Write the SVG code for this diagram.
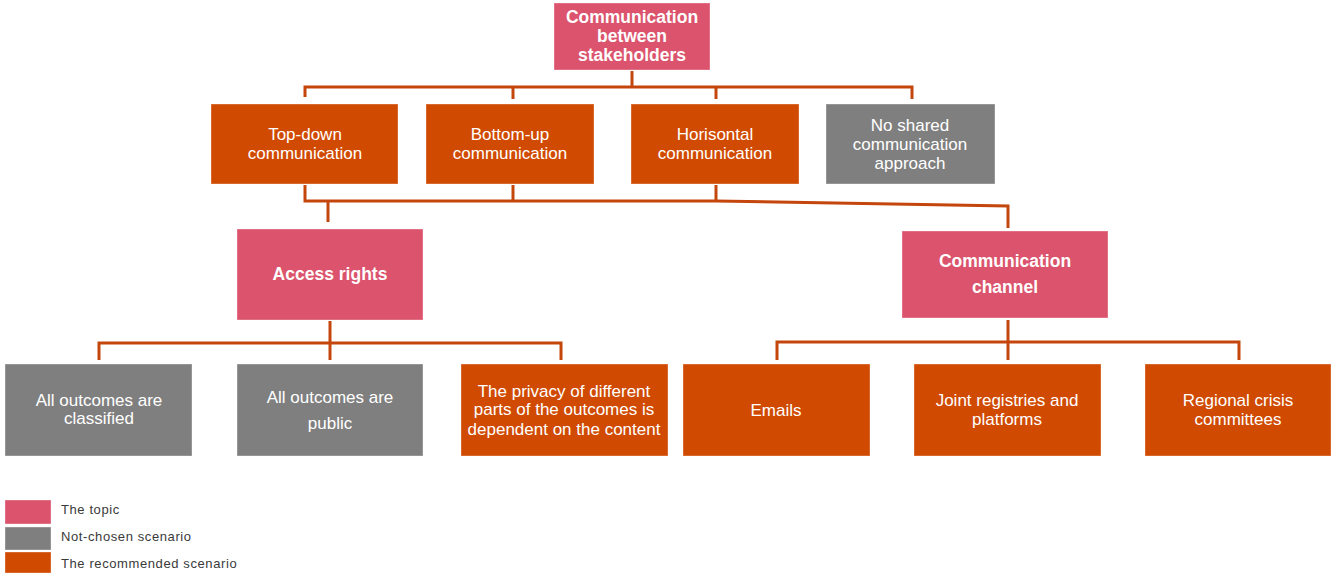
<svg xmlns="http://www.w3.org/2000/svg" width="1331" height="573" viewBox="0 0 1331 573">
  <style>
    .topic { fill: #db536c; }
    .rec { fill: #d04a02; }
    .no { fill: #7f7f7f; }
    .box { stroke: #ffffff; stroke-opacity: 0.35; stroke-width: 1; }
    text { font-family: "Liberation Sans", Arial, sans-serif; fill: #ffffff; text-anchor: middle; }
    .t { font-size: 17px; }
    .b { font-size: 17.5px; font-weight: bold; }
    .leg { font-size: 13px; fill: #3a3a3a; text-anchor: start; letter-spacing: 0.6px; }
    .conn { fill: none; stroke: #c4460c; stroke-width: 3; stroke-linejoin: miter; }
  </style>

  <g id="connectors" class="conn">
    <!-- root to first row -->
    <path d="M632 71 V88"/>
    <path d="M305 97 V87 H912 V99"/>
    <path d="M513 87 V99"/>
    <path d="M716 87 V99"/>
    <!-- first row to second-level topics -->
    <path d="M305 185 V201 H716 L1008 206 V228"/>
    <path d="M513 185 V201"/>
    <path d="M716 185 V201"/>
    <path d="M328 201 V222"/>
    <!-- access rights branch -->
    <path d="M330 321 V343"/>
    <path d="M99 360 V343 H561 V360"/>
    <path d="M330 343 V360"/>
    <!-- communication channel branch -->
    <path d="M1008 320 V342"/>
    <path d="M777 360 V342 H1239 V360"/>
    <path d="M1008 342 V360"/>
  </g>

  <g id="root">
    <rect class="topic box" x="554" y="3" width="156" height="67"/>
    <text class="b" x="632" y="23">Communication</text>
    <text class="b" x="632" y="42">between</text>
    <text class="b" x="632" y="61">stakeholders</text>
  </g>

  <g id="top-down">
    <rect class="rec box" x="211" y="104" width="187" height="80"/>
    <text class="t" x="305" y="140">Top-down</text>
    <text class="t" x="305" y="159">communication</text>
  </g>
  <g id="bottom-up">
    <rect class="rec box" x="426" y="104" width="168" height="80"/>
    <text class="t" x="510" y="140">Bottom-up</text>
    <text class="t" x="510" y="159">communication</text>
  </g>
  <g id="horisontal">
    <rect class="rec box" x="631" y="104" width="168" height="80"/>
    <text class="t" x="715" y="140">Horisontal</text>
    <text class="t" x="715" y="159">communication</text>
  </g>
  <g id="no-shared">
    <rect class="no box" x="826" y="104" width="169" height="80"/>
    <text class="t" x="910" y="131">No shared</text>
    <text class="t" x="910" y="150">communication</text>
    <text class="t" x="910" y="169">approach</text>
  </g>

  <g id="access-rights">
    <rect class="topic box" x="237" y="229" width="186" height="91"/>
    <text class="b" x="330" y="280">Access rights</text>
  </g>
  <g id="communication-channel">
    <rect class="topic box" x="902" y="231" width="206" height="87"/>
    <text class="b" x="1005" y="267">Communication</text>
    <text class="b" x="1005" y="293">channel</text>
  </g>

  <g id="classified">
    <rect class="no box" x="5" y="364" width="187" height="92"/>
    <text class="t" x="99" y="406">All  outcomes are</text>
    <text class="t" x="99" y="424">classified</text>
  </g>
  <g id="public">
    <rect class="no box" x="237" y="364" width="186" height="92"/>
    <text class="t" x="330" y="403">All  outcomes are</text>
    <text class="t" x="330" y="429">public</text>
  </g>
  <g id="privacy">
    <rect class="rec box" x="461" y="364" width="207" height="92"/>
    <text class="t" x="564" y="397">The privacy of different</text>
    <text class="t" x="564" y="415">parts of the outcomes is</text>
    <text class="t" x="564" y="435">dependent on the content</text>
  </g>

  <g id="emails">
    <rect class="rec box" x="683" y="364" width="187" height="92"/>
    <text class="t" x="776" y="416">Emails</text>
  </g>
  <g id="joint-registries">
    <rect class="rec box" x="914" y="364" width="187" height="92"/>
    <text class="t" x="1007" y="406">Joint registries and</text>
    <text class="t" x="1007" y="425">platforms</text>
  </g>
  <g id="regional-committees">
    <rect class="rec box" x="1145" y="364" width="186" height="92"/>
    <text class="t" x="1238" y="406">Regional crisis</text>
    <text class="t" x="1238" y="425">committees</text>
  </g>

  <g id="legend">
    <rect class="topic box" x="5" y="500" width="46" height="24"/>
    <rect class="no box" x="5" y="527" width="46" height="23"/>
    <rect class="rec box" x="5" y="552" width="46" height="21"/>
    <text class="leg" x="61" y="514">The topic</text>
    <text class="leg" x="61" y="541">Not-chosen scenario</text>
    <text class="leg" x="61" y="568">The recommended scenario</text>
  </g>
</svg>
